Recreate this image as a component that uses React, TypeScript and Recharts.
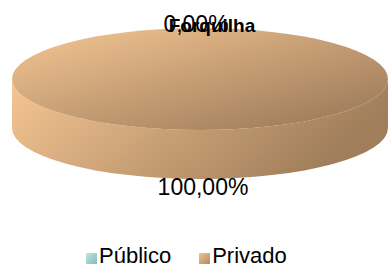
import { Legend, Pie, PieChart } from 'recharts';

// dados
const categories = ['Público', 'Privado'];
const values = [0, 100];
const title = 'Forquilha';

const TILT = 51 / 188;
const DEPTH = 49;
const FONT = '"Liberation Sans", Arial, sans-serif';

const TOP_STOPS = [
    ['#c4e9e9', '#8fbfbf'],
    ['#f6c794', '#957455'],
];
const SIDE_STOPS = [
    ['#bfe4e4', '#86b4b4'],
    ['#f6c693', '#a07e5b'],
];
const LEGEND_STOPS = [
    ['#c0e6e6', '#86baba'],
    ['#f4c490', '#b08a64'],
];

const data = categories.map((name, i) => ({ name, value: values[i] }));

const rad = (a: number) => (a * Math.PI) / 180;

const Sector3D = (props: any) => {
    const { cx, cy, outerRadius, startAngle, endAngle, index } = props;
    const rx = outerRadius;
    const ry = rx * TILT;
    const a0 = Math.min(startAngle, endAngle);
    const a1 = Math.max(startAngle, endAngle);
    if (a1 - a0 < 0.01) return null;

    const pt = (a: number, dy = 0) => `${cx + rx * Math.cos(rad(a))},${cy - ry * Math.sin(rad(a)) + dy}`;

    // front half of the side wall
    const sides: string[] = [];
    for (let k = -2; k <= 1; k++) {
        const s = Math.max(a0, 180 + 360 * k);
        const e = Math.min(a1, 360 + 360 * k);
        if (e - s > 0.01) {
            sides.push(
                `M${pt(s)} A${rx},${ry} 0 0 0 ${pt(e)} L${pt(e, DEPTH)} A${rx},${ry} 0 0 1 ${pt(s, DEPTH)} Z`
            );
        }
    }

    const full = a1 - a0 >= 359.99;
    const large = a1 - a0 > 180 ? 1 : 0;
    const topPath = `M${cx},${cy} L${pt(a0)} A${rx},${ry} 0 ${large} 0 ${pt(a1)} Z`;

    return (
        <g>
            <defs>
                <linearGradient id={`top${index}`} x1="0" y1="0" x2="1" y2="1">
                    <stop offset="0%" stopColor={TOP_STOPS[index][0]} />
                    <stop offset="100%" stopColor={TOP_STOPS[index][1]} />
                </linearGradient>
                <linearGradient id={`side${index}`} x1="0" y1="0" x2="1" y2="0.3">
                    <stop offset="0%" stopColor={SIDE_STOPS[index][0]} />
                    <stop offset="100%" stopColor={SIDE_STOPS[index][1]} />
                </linearGradient>
            </defs>
            {sides.map((d, i) => (
                <path key={i} d={d} fill={`url(#side${index})`} />
            ))}
            {full ? (
                <ellipse cx={cx} cy={cy} rx={rx} ry={ry} fill={`url(#top${index})`} />
            ) : (
                <path d={topPath} fill={`url(#top${index})`} />
            )}
        </g>
    );
};

const renderLabel = (props: any) => {
    const { cx, cy, midAngle, outerRadius, percent } = props;
    const ry = outerRadius * TILT;
    const s = Math.sin(rad(midAngle));
    const x = cx + (s > 0 ? -4 : 3);
    const y = s > 0 ? cy - ry + 4 : cy + ry + DEPTH + 16;
    const txt = (percent * 100).toFixed(2).replace('.', ',') + '%';
    return (
        <text x={x} y={y} textAnchor="middle" fill="#000" fontSize={23} fontFamily={FONT}>
            {txt}
        </text>
    );
};

const LegendContent = () => (
    <div style={{ display: 'flex', alignItems: 'flex-start', fontFamily: FONT, fontSize: 22, lineHeight: '22px' }}>
        {categories.map((c, i) => (
            <div key={c} style={{ display: 'flex', alignItems: 'flex-start', marginLeft: i === 0 ? 86 : 28 }}>
                <span
                    style={{
                        width: 11,
                        height: 11,
                        marginRight: 2,
                        marginTop: 8,
                        background: `linear-gradient(135deg, ${LEGEND_STOPS[i][0]}, ${LEGEND_STOPS[i][1]})`,
                    }}
                />
                <span style={{ color: '#000' }}>{c}</span>
            </div>
        ))}
    </div>
);

export default function App() {
    return (
        <div style={{ position: 'absolute', left: 0, top: 0, width: 390, height: 267, background: '#fff', overflow: 'hidden' }}>
            <PieChart width={390} height={267} margin={{ top: 0, right: 0, bottom: 0, left: 0 }}>
                <Pie
                    data={data}
                    dataKey="value"
                    nameKey="name"
                    cx={200}
                    cy={79}
                    outerRadius={188}
                    startAngle={90}
                    endAngle={-270}
                    stroke="none"
                    shape={Sector3D}
                    label={renderLabel}
                    labelLine={false}
                    isAnimationActive={false}
                />
                <Legend
                    content={<LegendContent />}
                    wrapperStyle={{ position: 'absolute', top: 245, left: 0, width: 390, height: 22 }}
                />
            </PieChart>
            <svg width={390} height={40} style={{ position: 'absolute', left: 0, top: 0, pointerEvents: 'none' }}>
                <text x={212} y={32} textAnchor="middle" fontSize={19} fontWeight="bold" fontFamily={FONT} fill="#000">
                    {title}
                </text>
            </svg>
        </div>
    );
}
